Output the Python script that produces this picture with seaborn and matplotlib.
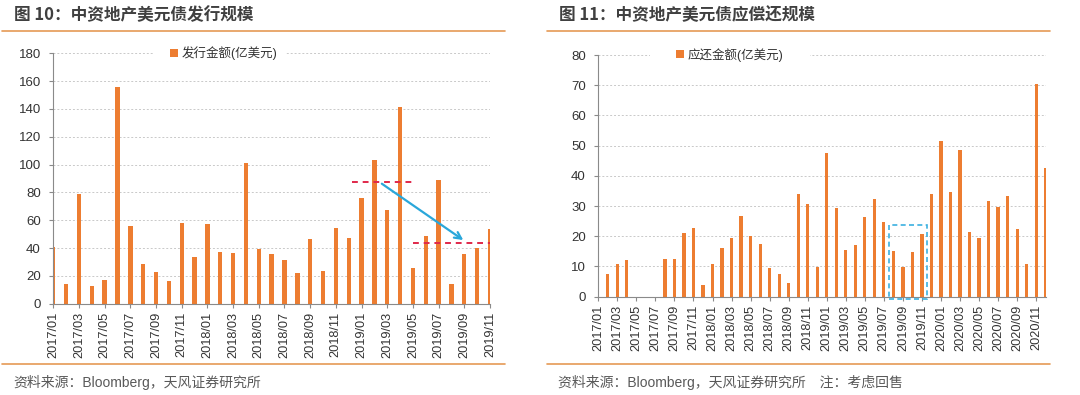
import matplotlib
matplotlib.use("Agg")
import matplotlib.pyplot as plt
import seaborn as sns
import pandas as pd
from matplotlib.patches import Rectangle, Patch
from matplotlib.lines import Line2D

# ---------------- data ----------------
issue_months = [f"{y}/{m:02d}" for y in (2017, 2018, 2019) for m in range(1, 13)][:35]
issue_values = [41, 14, 79, 12.5, 17, 156, 56, 28.5, 22.8, 16, 57.8, 33.3,
                57.3, 37.2, 36.7, 101.4, 39.3, 35.7, 31.4, 21.8, 46.3, 23.5, 54.4, 47.2,
                76.3, 103.6, 67.4, 141.2, 25.4, 48.7, 89, 14.4, 35.7, 40.3, 53.7]

repay_months = [f"{y}/{m:02d}" for y in (2017, 2018, 2019, 2020) for m in range(1, 13)]
repay_values = [0, 7.5, 10.9, 12.1, 0, 0, 0, 12.6, 12.6, 21.1, 22.8, 3.75,
                10.9, 16, 19.4, 26.7, 20.1, 17.3, 9.4, 7.5, 4.5, 34, 30.8, 9.9,
                47.5, 29.5, 15.5, 17.1, 26.5, 32.3, 24.7, 15.1, 9.9, 14.7, 20.6, 33.9,
                51.7, 34.5, 48.5, 21.4, 19.4, 31.8, 29.6, 33.2, 22.3, 10.8, 70.5, 42.7]

title_left = "图 10：中资地产美元债发行规模"
title_right = "图 11：中资地产美元债应偿还规模"
legend_left = "发行金额(亿美元)"
legend_right = "应还金额(亿美元)"
source_left = "资料来源：Bloomberg，天风证券研究所"
source_right = "资料来源：Bloomberg，天风证券研究所\u3000注：考虑回售"

# ---------------- style ----------------
sns.set_theme(style="white")
plt.rcParams["font.family"] = ["Liberation Sans", "Noto Sans CJK SC"]

BAR = "#ED7D31"
ORANGE_LINE = "#E59A55"
TEXT = "#404040"
GRID = "#c9c9c9"
SPINE = "#8a8a8a"

fig = plt.figure(figsize=(10.8, 3.95), dpi=100)
W, H = 1080, 395


def fx(px):
    return px / W


def fy(py):
    return 1 - py / H


def draw_panel(ax, months, values, ymax, ystep, legend_label, legend_x, rect_x):
    df = pd.DataFrame({"month": months, "value": values})
    sns.barplot(data=df, x="month", y="value", ax=ax, color=BAR, saturation=1,
                width=0.34, linewidth=0, errorbar=None)
    n = len(months)
    ax.set_xlim(0, n - 1)
    ax.set_ylim(0, ymax)
    ax.set_xlabel("")
    ax.set_ylabel("")
    ax.set_yticks(range(0, ymax + 1, ystep))
    ax.set_xticks(range(0, n, 2))
    ax.set_xticklabels(months[::2], rotation=90, fontsize=9.2, color="#333333")
    ax.tick_params(axis="x", length=3, width=0.8, color=SPINE, pad=3, bottom=True)
    ax.tick_params(axis="y", length=3, width=0.8, color=SPINE, pad=6,
                   labelsize=9.5, labelcolor="#333333", left=True)
    for s in ("top", "right"):
        ax.spines[s].set_visible(False)
    for s in ("left", "bottom"):
        ax.spines[s].set_color(SPINE)
        ax.spines[s].set_linewidth(0.8)
    ax.set_axisbelow(True)
    ax.yaxis.grid(True, linestyle=(0, (2, 2)), color=GRID, linewidth=0.7)
    ax.xaxis.grid(False)
    # white box breaking top gridline behind legend
    ax.add_patch(Rectangle((rect_x[0], 0.97), rect_x[1] - rect_x[0], 0.06,
                           transform=ax.transAxes, facecolor="white",
                           edgecolor="none", zorder=1, clip_on=False))
    leg = ax.legend(handles=[Patch(facecolor=BAR, edgecolor="none", label=legend_label)],
                    loc="center", bbox_to_anchor=(legend_x, 1.0), frameon=False,
                    fontsize=9, handlelength=0.6, handleheight=0.6,
                    handletextpad=0.3, borderaxespad=0)
    for t in leg.get_texts():
        t.set_color("#333333")


ax1 = fig.add_axes([fx(53.3), fy(303.7), fx(490 - 53.3), (303.7 - 53.3) / H])
draw_panel(ax1, issue_months, issue_values, 180, 20, legend_left, 0.39, (0.228, 0.531))

ax2 = fig.add_axes([fx(598.3), fy(296.7), fx(1045.7 - 598.3), (296.7 - 55) / H])
draw_panel(ax2, repay_months, repay_values, 80, 10, legend_right, 0.294, (0.116, 0.473))

# annotations on left chart
RED = "#E0284A"
ax1.plot([23.26, 27.9], [87.7, 87.7], color=RED, linestyle=(0, (3, 2.5)), linewidth=1.4, zorder=4)
ax1.plot([28.0, 34.0], [43.9, 43.9], color=RED, linestyle=(0, (3, 2.5)), linewidth=1.4, zorder=4)
ax1.annotate("", xy=(32.1, 44.6), xytext=(25.4, 87.4),
             arrowprops=dict(arrowstyle="->", color="#2AA7DA", lw=1.6,
                             mutation_scale=12), zorder=5)

# dashed rectangle on right chart
ax2.add_patch(Rectangle((30.5, -0.7), 4.05, 24.5, fill=False, linestyle=(0, (3, 2)),
                        edgecolor="#3BB0E0", linewidth=1.2, clip_on=False, zorder=5))

# titles, rules, sources
title_font = ["Noto Sans CJK SC", "DejaVu Sans"]
fig.text(fx(14), fy(15), title_left, fontsize=12, fontweight="bold", color=TEXT,
         va="center", ha="left", family=title_font)
fig.text(fx(559), fy(15), title_right, fontsize=12, fontweight="bold", color=TEXT,
         va="center", ha="left", family=title_font)

for (x0, x1) in ((2, 505), (547, 1050)):
    fig.add_artist(Line2D([fx(x0), fx(x1)], [fy(31), fy(31)], color=ORANGE_LINE, linewidth=1.2))
    fig.add_artist(Line2D([fx(x0), fx(x1)], [fy(364), fy(364)], color=ORANGE_LINE, linewidth=1.2))

fig.text(fx(13.5), fy(382), source_left, fontsize=10, color="#595959", va="center", ha="left")
fig.text(fx(558), fy(382), source_right, fontsize=10, color="#595959", va="center", ha="left")

fig.savefig("out.png", dpi=100, facecolor="white")
